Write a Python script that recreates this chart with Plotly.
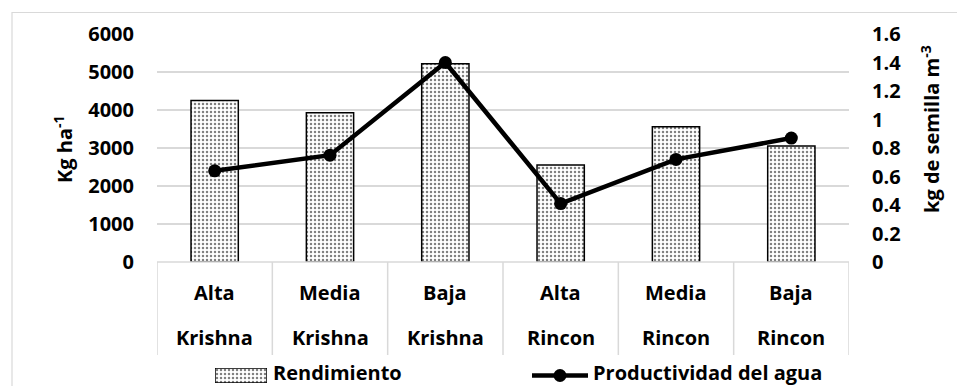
import plotly.graph_objects as go

# Data
nivel = ["Alta", "Media", "Baja", "Alta", "Media", "Baja"]
variedad = ["Krishna", "Krishna", "Krishna", "Rincon", "Rincon", "Rincon"]
rendimiento = [4250, 3930, 5220, 2550, 3560, 3050]          # Kg ha-1
productividad = [0.64, 0.75, 1.40, 0.41, 0.72, 0.87]         # kg de semilla m-3
y_ticks = [0, 1000, 2000, 3000, 4000, 5000, 6000]
y2_ticks = [0, 0.2, 0.4, 0.6, 0.8, 1, 1.2, 1.4, 1.6]

W, H = 957, 386
FONT = "Open Sans"
FS = 20
GRID = "#d9d9d9"

# plot rectangle in pixels
PL, PR, PT, PB = 157, 849, 34, 262


def px(x):
    return x / W


def py(y):
    return 1 - y / H


cats = [f"{a} {b}" for a, b in zip(nivel, variedad)]

bold = dict(family=FONT, size=FS, color="black", weight="bold")

fig = go.Figure()

fig.add_trace(go.Bar(
    x=cats, y=rendimiento, name="Rendimiento", width=0.41,
    marker=dict(color="white",
                line=dict(color="black", width=1.5),
                pattern=dict(shape=".", fgcolor="black", bgcolor="white",
                             size=4, solidity=0.3)),
    showlegend=False,
))

fig.add_trace(go.Scatter(
    x=cats, y=productividad, name="Productividad del agua", yaxis="y2",
    mode="lines+markers",
    line=dict(color="black", width=4.5),
    marker=dict(color="black", size=13),
    showlegend=False,
))

# legend sample for the bar series, drawn on its own small axis
fig.add_trace(go.Bar(
    x=[0], y=[1], xaxis="x3", yaxis="y3", width=1,
    marker=dict(color="white",
                line=dict(color="black", width=1.5),
                pattern=dict(shape=".", fgcolor="black", bgcolor="white",
                             size=4, solidity=0.3)),
    showlegend=False, hoverinfo="skip",
))

shapes = []
annotations = []

# outer chart frame (left and top edges)
shapes.append(dict(type="path", xref="paper", yref="paper",
                   path=f"M {px(12)} 0 L {px(12)} {py(12.5)} L 1 {py(12.5)}",
                   line=dict(color=GRID, width=1.2)))

# category axis: baseline and dividers down through both label rows
shapes.append(dict(type="line", xref="paper", yref="paper",
                   x0=px(PL), x1=px(PR), y0=py(PB), y1=py(PB),
                   line=dict(color=GRID, width=1.5)))
for i in range(len(cats) + 1):
    shapes.append(dict(type="line", xref="x", yref="paper",
                       x0=i - 0.5, x1=i - 0.5, y0=py(PB), y1=py(355),
                       line=dict(color=GRID, width=1.5)))

for i, (a, b) in enumerate(zip(nivel, variedad)):
    annotations.append(dict(x=i, y=py(292), xref="x", yref="paper", text=a,
                            showarrow=False, font=bold,
                            xanchor="center", yanchor="middle"))
    annotations.append(dict(x=i, y=py(337), xref="x", yref="paper", text=b,
                            showarrow=False, font=bold,
                            xanchor="center", yanchor="middle"))

# axis titles
annotations.append(dict(x=px(63), y=py(149), xref="paper", yref="paper",
                        text="Kg ha<sup>-1</sup>", textangle=-90,
                        showarrow=False, font=bold,
                        xanchor="center", yanchor="middle"))
annotations.append(dict(x=px(930), y=py(129), xref="paper", yref="paper",
                        text="kg de semilla m<sup>-3</sup>", textangle=-90,
                        showarrow=False, font=bold,
                        xanchor="center", yanchor="middle"))

# legend
LY = 375.5      # symbol centre line
LT = 372        # text anchor
annotations.append(dict(x=px(271), y=py(LT), xref="paper", yref="paper",
                        text="Rendimiento", showarrow=False, font=bold,
                        xanchor="left", yanchor="middle"))
shapes.append(dict(type="line", xref="paper", yref="paper",
                   x0=px(532), x1=px(588), y0=py(LY), y1=py(LY),
                   line=dict(color="black", width=4.5)))
shapes.append(dict(type="circle", xref="paper", yref="paper",
                   x0=px(553.5), x1=px(566.5), y0=py(LY + 6.5), y1=py(LY - 6.5),
                   fillcolor="black", line=dict(color="black", width=0)))
annotations.append(dict(x=px(591), y=py(LT), xref="paper", yref="paper",
                        text="Productividad del agua", showarrow=False, font=bold,
                        xanchor="left", yanchor="middle"))

fig.update_layout(
    width=W, height=H, autosize=False,
    margin=dict(l=0, r=0, t=0, b=0, pad=0),
    paper_bgcolor="white", plot_bgcolor="white",
    font=dict(family=FONT, size=FS, color="black"),
    xaxis=dict(domain=[px(PL), px(PR)], type="category",
               range=[-0.5, len(cats) - 0.5], automargin=False,
               showticklabels=False, showgrid=False, showline=False,
               zeroline=False, ticks=""),
    yaxis=dict(domain=[py(PB), py(PT)], range=[0, 6000], automargin=False,
               tickvals=y_ticks, tickformat="d",
               showgrid=True, gridcolor=GRID, gridwidth=1.5,
               zeroline=False, showline=False, ticks="",
               ticklabelstandoff=22, tickfont=bold),
    yaxis2=dict(domain=[py(PB), py(PT)], range=[0, 1.6], overlaying="y",
                side="right", anchor="x", automargin=False,
                tickvals=y2_ticks, ticktext=[f"{v:g}" for v in y2_ticks],
                showgrid=False, zeroline=False, showline=False, ticks="",
                ticklabelstandoff=22, tickfont=bold),
    xaxis3=dict(domain=[px(215), px(267)], range=[-0.5, 0.5], anchor="y3",
                visible=False, fixedrange=True, automargin=False),
    yaxis3=dict(domain=[py(383), py(368)], range=[0, 1], anchor="x3",
                visible=False, fixedrange=True, automargin=False),
    shapes=shapes,
    annotations=annotations,
    showlegend=False,
)

fig.write_html("out.html")
